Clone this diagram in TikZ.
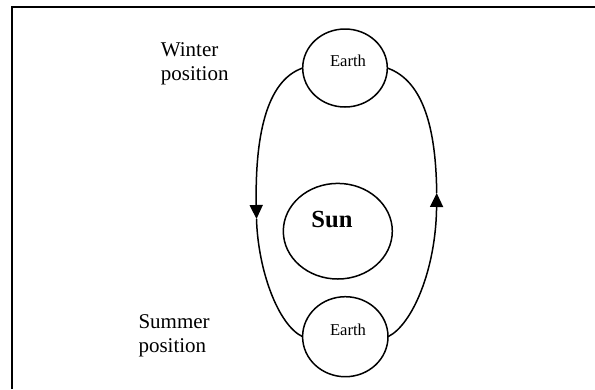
\documentclass[tikz,border=0pt]{standalone}
\usepackage{fontspec}
\setmainfont{Liberation Serif}
\usetikzlibrary{shapes.geometric,arrows.meta}
\begin{document}
\begin{tikzpicture}[x=1bp,y=-1bp,
  orb/.style={draw, line width=1.5bp, ellipse, inner sep=0pt, outer sep=0pt},
  orbit/.style={line width=1.5bp},
  tip/.style={-{Triangle[length=14bp,width=13bp]}},
  frame/.style={line width=2bp},
  lbl/.style={font=\fontsize{21bp}{24bp}\selectfont, inner sep=0pt, anchor=base west},
  earthlbl/.style={font=\fontsize{16.6bp}{18bp}\selectfont, inner sep=0pt, anchor=base},
  sunlbl/.style={font=\bfseries\fontsize{24.6bp}{28bp}\selectfont, inner sep=0pt, anchor=base}]
\useasboundingbox (0,0) rectangle (595,389);
\draw[frame] (12.3,389) -- (12.3,7.3) -- (595,7.3);
% bodies
\node[orb, minimum width=84.6bp, minimum height=78bp] (tE) at (345,68) {};
\node[orb, minimum width=85.4bp, minimum height=80bp] (bE) at (345.3,336.7) {};
\node[orb, minimum width=109bp, minimum height=95.6bp] (sun) at (337.8,231.2) {};
% labels
\node[earthlbl] (tEt) at (348,66) {Earth};
\node[earthlbl] (bEt) at (348,335) {Earth};
\node[sunlbl] (sunt) at (332,227.7) {Sun};
\node[lbl] (win) at (160.7,56.7) {\begin{tabular}[t]{@{}l@{}}Winter\\position\end{tabular}};
\node[lbl] (sum) at (138.3,328.3) {\begin{tabular}[t]{@{}l@{}}Summer\\position\end{tabular}};
% orbit
\coordinate (L) at (256.5,219);
\coordinate (R) at (436.7,193);
\draw[orbit,tip] (tE.west) .. controls (265,81) and (255,140) .. (L);
\draw[orbit] (L) .. controls (258,270) and (278,325) .. (bE.west);
\draw[orbit,tip] (bE.east) .. controls (412,325) and (436,270) .. (R);
\draw[orbit] (R) .. controls (436,130) and (424,81) .. (tE.east);
\end{tikzpicture}
\end{document}
